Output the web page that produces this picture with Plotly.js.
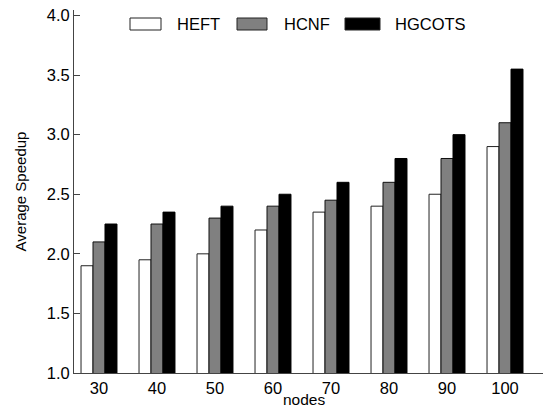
<!DOCTYPE html>
<html>
<head>
<meta charset="utf-8">
<script src="https://cdn.plot.ly/plotly-3.0.1.min.js"></script>
<style>html,body{margin:0;padding:0;background:#fff;}#chart{width:544px;height:409px;}</style>
</head>
<body>
<div id="chart"></div>
<script>
const nodes = ["30", "40", "50", "60", "70", "80", "90", "100"];
const seriesNames = ["HEFT", "HCNF", "HGCOTS"];
const heft   = [1.90, 1.95, 2.00, 2.20, 2.35, 2.40, 2.50, 2.90];
const hcnf   = [2.10, 2.25, 2.30, 2.40, 2.45, 2.60, 2.80, 3.10];
const hgcots = [2.25, 2.35, 2.40, 2.50, 2.60, 2.80, 3.00, 3.55];
const yTicks = [1.0, 1.5, 2.0, 2.5, 3.0, 3.5, 4.0];
const xTitle = "nodes";
const yTitle = "Average Speedup";

const W = 544, H = 409;
const M = {l: 74, r: 1, t: 10, b: 36};
const fills = ["#ffffff", "#808080", "#000000"];
const outlines = ["#222222", "#111111", "#000000"];
const values = [heft, hcnf, hgcots];
const FONT = "Liberation Sans, Arial, Helvetica, sans-serif";

const traces = values.map((v, i) => ({
  type: "bar",
  name: seriesNames[i],
  x: nodes,
  y: v,
  marker: {color: fills[i], line: {color: outlines[i], width: 1}},
  showlegend: false,
  hoverinfo: "skip"
}));

// legend drawn in paper coordinates (pixel helpers)
const pw = W - M.l - M.r, ph = H - M.t - M.b;
const px = p => (p - M.l) / pw;
const py = p => (H - M.b - p) / ph;
const sw = [[130, 161], [237, 267], [345, 380]];
const tx = [175, 282, 393];
const shapes = [], annotations = [];
seriesNames.forEach((n, i) => {
  shapes.push({type: "rect", xref: "paper", yref: "paper",
    x0: px(sw[i][0]), x1: px(sw[i][1]), y0: py(30), y1: py(18),
    fillcolor: fills[i], line: {color: "#222", width: 1}});
  annotations.push({xref: "paper", yref: "paper", x: px(tx[i]), y: py(24),
    xanchor: "left", yanchor: "middle", showarrow: false, text: n,
    font: {family: FONT, size: 16.5, color: "#000"}});
});
annotations.push({xref: "paper", yref: "paper", x: px(304), y: py(399),
  xanchor: "center", yanchor: "middle", showarrow: false, text: xTitle,
  borderpad: 0,
  font: {family: FONT, size: 15.5, color: "#000"}});

const layout = {
  width: W, height: H,
  margin: M,
  paper_bgcolor: "#fff", plot_bgcolor: "#fff",
  font: {family: FONT, size: 16.5, color: "#000"},
  barmode: "group",
  bargap: 0.38,
  bargroupgap: 0,
  xaxis: {
    type: "category",
    range: [-0.431, 7.655],
    showline: true, linecolor: "#444", linewidth: 1,
    ticks: "", showgrid: false, zeroline: false,
    tickfont: {family: FONT, size: 16.5, color: "#000"}
  },
  yaxis: {
    range: [1, 4.046],
    tickvals: yTicks, tickformat: ".1f",
    showline: true, linecolor: "#444", linewidth: 1,
    ticks: "inside", ticklen: 6, tickcolor: "#444", tickwidth: 1,
    showgrid: false, zeroline: false,
    tickfont: {family: FONT, size: 16.5, color: "#000"},
    title: {text: yTitle, font: {family: FONT, size: 15, color: "#000"}, standoff: 16}
  },
  shapes: shapes,
  annotations: annotations
};

Plotly.newPlot("chart", traces, layout, {displayModeBar: false, staticPlot: true});
</script>
</body>
</html>
